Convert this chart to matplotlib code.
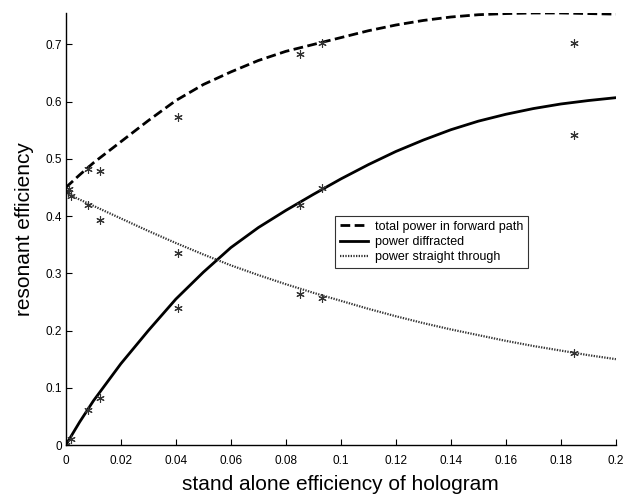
import matplotlib
matplotlib.use("Agg")
import matplotlib.pyplot as plt
from matplotlib.ticker import FormatStrFormatter

plt.rcParams['font.family'] = ['Liberation Sans', 'DejaVu Sans']

# === Curves ===
curve_x = [0, 0.005, 0.01, 0.02, 0.03, 0.04, 0.05, 0.06, 0.07, 0.08, 0.09,
           0.1, 0.11, 0.12, 0.13, 0.14, 0.15, 0.16, 0.17, 0.18, 0.19, 0.2]
total_fwd = [0.45, 0.472, 0.493, 0.530, 0.567, 0.602, 0.630, 0.652, 0.672, 0.688, 0.700,
             0.712, 0.724, 0.734, 0.742, 0.748, 0.752, 0.754, 0.755, 0.755, 0.754, 0.753]
diffracted = [0, 0.04, 0.077, 0.142, 0.200, 0.255, 0.302, 0.345, 0.380, 0.410, 0.438,
              0.465, 0.490, 0.513, 0.533, 0.551, 0.566, 0.578, 0.588, 0.596, 0.602, 0.607]
straight = [0.44, 0.429, 0.418, 0.396, 0.374, 0.353, 0.333, 0.314, 0.297, 0.281, 0.266,
            0.252, 0.238, 0.225, 0.213, 0.202, 0.192, 0.182, 0.173, 0.165, 0.157, 0.150]

# === Measured points ===
pts_x = [0, 0.0007, 0.0013, 0.0017, 0.0017, 0.008, 0.008, 0.008, 0.0124, 0.0124, 0.0124,
         0.0407, 0.0407, 0.0407, 0.085, 0.085, 0.085, 0.093, 0.093, 0.093,
         0.1847, 0.1847, 0.1847]
pts_y = [0, 0.442, 0.448, 0.435, 0.0105, 0.483, 0.42, 0.061, 0.478, 0.394, 0.082,
         0.574, 0.335, 0.239, 0.684, 0.42, 0.264, 0.703, 0.449, 0.257,
         0.702, 0.541, 0.161]

fig = plt.figure(figsize=(6.33, 5.0), dpi=100)
ax = fig.add_axes([0.104, 0.11, 0.869, 0.864])

ax.plot(curve_x, total_fwd, color='black', lw=2.0, ls=(0, (3.5, 1.6)),
        label='total power in forward path')
ax.plot(curve_x, diffracted, color='black', lw=2.0, ls='-', label='power diffracted')
ax.plot(curve_x, straight, color='#333333', lw=1.6, ls=(0, (0.6, 0.6)),
        label='power straight through')
ax.plot(pts_x, pts_y, ls='none', marker=(6, 2, 0), ms=6, mew=0.8, color='#333333')

ax.set_xlim(0, 0.2)
ax.set_ylim(0, 0.755)
ax.set_xticks([0, 0.02, 0.04, 0.06, 0.08, 0.1, 0.12, 0.14, 0.16, 0.18, 0.2])
ax.set_yticks([0, 0.1, 0.2, 0.3, 0.4, 0.5, 0.6, 0.7])
ax.xaxis.set_major_formatter(FormatStrFormatter('%g'))
ax.yaxis.set_major_formatter(FormatStrFormatter('%g'))
ax.tick_params(direction='in', length=4, labelsize=8.5)
ax.tick_params(axis='x', pad=7)
ax.tick_params(axis='y', pad=3)

ax.spines['top'].set_visible(False)
ax.spines['right'].set_visible(False)
ax.spines['left'].set_linewidth(1.0)
ax.spines['bottom'].set_linewidth(1.0)

ax.set_xlabel('stand alone efficiency of hologram', fontsize=15, labelpad=6)
ax.set_ylabel('resonant efficiency', fontsize=15, labelpad=8)

leg = ax.legend(loc='upper left', bbox_to_anchor=(0.478, 0.545), fontsize=9,
                frameon=True, fancybox=False, edgecolor='black', handlelength=2.2,
                borderpad=0.4, labelspacing=0.25, handletextpad=0.6)
leg.get_frame().set_linewidth(0.8)

fig.savefig('out.png', dpi=100)
